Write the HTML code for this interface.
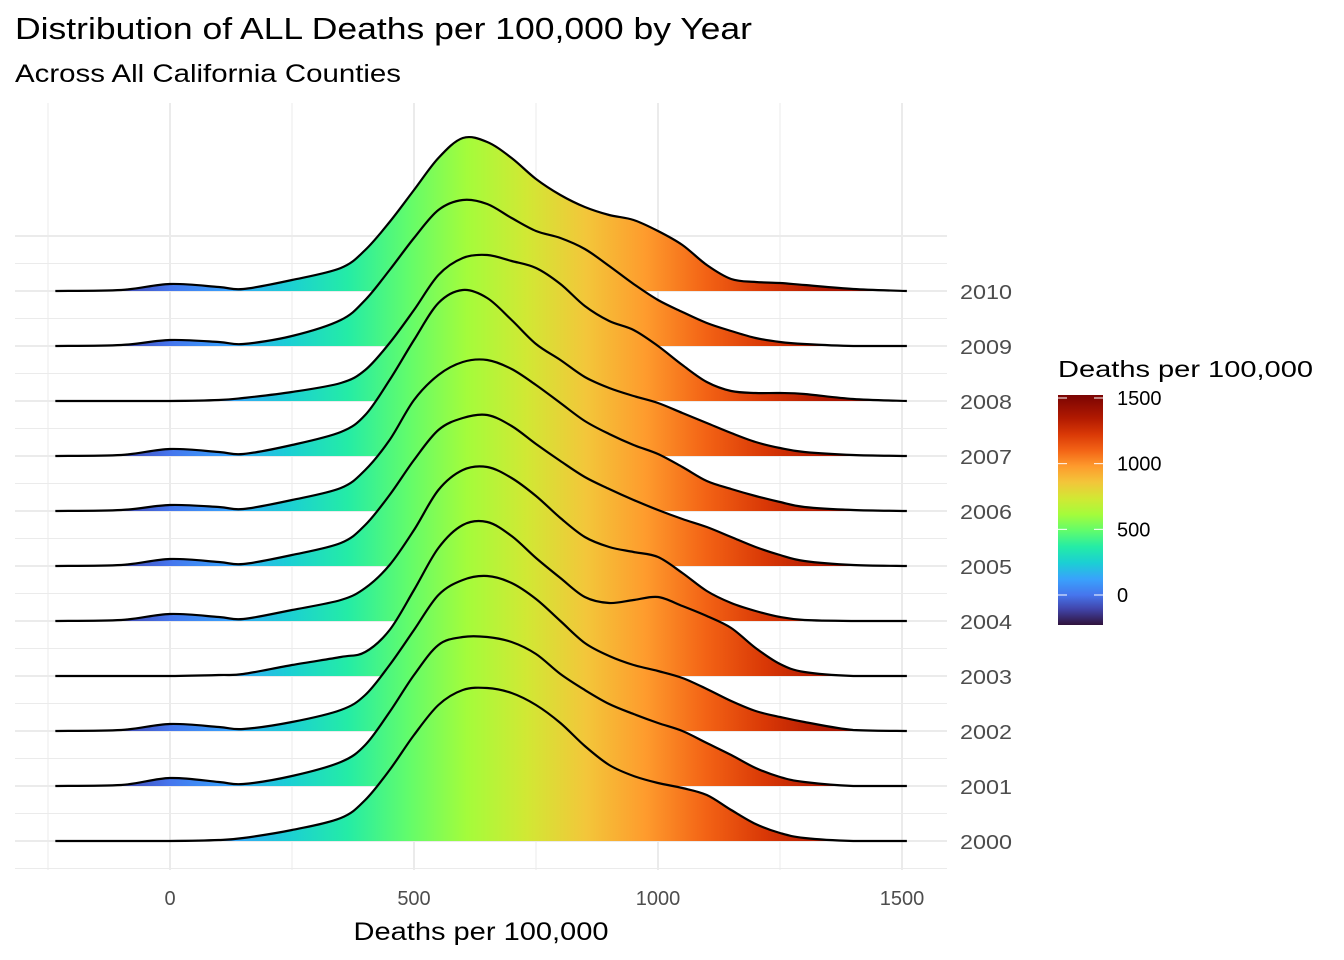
<!DOCTYPE html>
<html><head><meta charset="utf-8"><style>
body{margin:0;background:#fff;}
svg{display:block;font-family:"Liberation Sans",Arial,sans-serif;}
</style></head><body>
<svg id="chart" width="1344" height="960">
<defs>
<linearGradient id="turbo" gradientUnits="userSpaceOnUse" x1="58" x2="910" y1="0" y2="0">
<stop offset="0" stop-color="#30123b"/><stop offset="0.07" stop-color="#4145ab"/><stop offset="0.13" stop-color="#4675ed"/>
<stop offset="0.2" stop-color="#39a2fc"/><stop offset="0.27" stop-color="#1bcfd4"/><stop offset="0.34" stop-color="#24eca6"/>
<stop offset="0.41" stop-color="#61fc6c"/><stop offset="0.48" stop-color="#a4fc3b"/><stop offset="0.55" stop-color="#d1e834"/>
<stop offset="0.62" stop-color="#f3c63a"/><stop offset="0.69" stop-color="#fe9b2d"/><stop offset="0.76" stop-color="#f36315"/>
<stop offset="0.83" stop-color="#d93806"/><stop offset="0.9" stop-color="#b11901"/><stop offset="1" stop-color="#7a0403"/>
</linearGradient>
<linearGradient id="turboV" x1="0" x2="0" y1="1" y2="0">
<stop offset="0" stop-color="#30123b"/><stop offset="0.07" stop-color="#4145ab"/><stop offset="0.13" stop-color="#4675ed"/>
<stop offset="0.2" stop-color="#39a2fc"/><stop offset="0.27" stop-color="#1bcfd4"/><stop offset="0.34" stop-color="#24eca6"/>
<stop offset="0.41" stop-color="#61fc6c"/><stop offset="0.48" stop-color="#a4fc3b"/><stop offset="0.55" stop-color="#d1e834"/>
<stop offset="0.62" stop-color="#f3c63a"/><stop offset="0.69" stop-color="#fe9b2d"/><stop offset="0.76" stop-color="#f36315"/>
<stop offset="0.83" stop-color="#d93806"/><stop offset="0.9" stop-color="#b11901"/><stop offset="1" stop-color="#7a0403"/>
</linearGradient>
</defs>
<text x="15" y="39" font-size="31" textLength="737" lengthAdjust="spacingAndGlyphs" fill="#000">Distribution of ALL Deaths per 100,000 by Year</text>
<text x="15" y="82" font-size="25" textLength="386" lengthAdjust="spacingAndGlyphs" fill="#000">Across All California Counties</text>
<g id="grid"></g>
<g id="ridges"></g>
<g id="axes"></g>
<text x="481" y="940" font-size="25" text-anchor="middle" textLength="255" lengthAdjust="spacingAndGlyphs" fill="#000">Deaths per 100,000</text>
<g>
<text x="1058" y="377" font-size="23" textLength="255" lengthAdjust="spacingAndGlyphs" fill="#000">Deaths per 100,000</text>
<rect x="1058" y="395" width="45" height="230" fill="url(#turboV)"/>
<g id="legendTicks"></g>
</g>
</svg>
<script>
const grid = [-235,-100,0,100,150,250,350,400,450,500,550,600,650,700,750,800,850,900,950,1000,1050,1100,1150,1200,1250,1300,1400,1510];
const years = [2000,2001,2002,2003,2004,2005,2006,2007,2008,2009,2010];
const d2000 = [0,0,0,1,3,11,23,41,71,106,136,151,153,148,136,118,95,76,65,58,53,46,31,17,8,3,0,0];
const d2001 = [0,1,8,4,2,10,24,41,74,111,141,149,149,144,132,112,96,82,72,63,55,43,31,18,9,4,0,0];
const d2002 = [0,1,7,4,2,9,21,36,66,101,136,151,155,148,132,110,88,75,66,60,53,42,30,20,14,9,1,0];
const d2003 = [0,0,0,1,2,11,19,24,46,86,128,151,154,140,118,98,79,73,76,79,70,60,48,28,12,4,0,0];
const d2004 = [0,1,7,4,2,11,21,33,56,91,131,151,154,143,125,103,84,74,69,64,48,30,18,10,4,1,0,0];
const d2005 = [0,1,7,4,2,11,23,41,71,106,136,148,151,140,122,105,89,77,66,56,47,39,29,19,11,5,1,0];
const d2006 = [0,1,6,4,2,11,23,41,71,111,136,149,151,142,126,108,90,77,66,57,44,30,22,15,9,4,1,0];
const d2007 = [0,1,7,4,2,11,24,41,76,116,153,166,158,136,112,96,79,68,60,53,43,33,23,14,8,4,1,0];
const d2008 = [0,0,0,1,3,9,18,31,58,91,126,143,146,140,133,117,95,80,71,55,36,19,10,8,8,7,2,0];
const d2009 = [0,1,6,4,2,10,26,46,76,108,136,146,142,128,115,108,97,80,62,46,34,23,15,8,4,2,0,0];
const d2010 = [0,1,7,4,2,11,23,41,69,101,133,153,149,133,112,96,84,76,71,60,46,26,12,9,8,6,2,0];
const series = [d2000,d2001,d2002,d2003,d2004,d2005,d2006,d2007,d2008,d2009,d2010];
const xTicks = [0,500,1000,1500];
const legendTicks = [0,500,1000,1500];

const NS="http://www.w3.org/2000/svg";
const xs = v => 170 + v*(902-170)/1500;
const base = i => 841 - i*55;
const hs = h => h;
const lg = v => 595 - v*(595-398)/1500;
function mk(tag, attrs, parent){const e=document.createElementNS(NS,tag);for(const k in attrs)e.setAttribute(k,attrs[k]);parent.appendChild(e);return e;}

const G=document.getElementById('grid');
for(let i=0;i<=years.length;i++){
  const ln=mk('line',{x1:15,x2:947,y1:base(i)+27.5,y2:base(i)+27.5,stroke:'#ebebeb','stroke-width':1},G);
  
  
}
for(let i=0;i<=years.length;i++){
  const ln=mk('line',{x1:15,x2:947,y1:base(i),y2:base(i),stroke:'#ebebeb','stroke-width':2},G);
  
  
}
for(let v=-250;v<=1500;v+=250){
  const major = v%500===0;
  const ln=mk('line',{x1:xs(v),x2:xs(v),y1:103,y2:870,stroke:'#ebebeb','stroke-width':major?2:1},G);
  
  
}
function pathFor(vals,i){
  const pts=grid.map((g,k)=>[xs(g),base(i)-hs(vals[k])]);
  let d=`M${pts[0][0]},${pts[0][1]}`;
  for(let k=0;k<pts.length-1;k++){
    const p0=pts[Math.max(k-1,0)],p1=pts[k],p2=pts[k+1],p3=pts[Math.min(k+2,pts.length-1)];
    const c1=[p1[0]+(p2[0]-p0[0])/6, Math.min(base(i),p1[1]+(p2[1]-p0[1])/6)];
    const c2=[p2[0]-(p3[0]-p1[0])/6, Math.min(base(i),p2[1]-(p3[1]-p1[1])/6)];
    d+=` C${c1[0]},${c1[1]} ${c2[0]},${c2[1]} ${p2[0]},${p2[1]}`;
  }
  return d;
}
const R=document.getElementById('ridges');
for(let i=years.length-1;i>=0;i--){
  const d=pathFor(series[i],i);
  const f=mk('path',{d:d+` L${xs(grid[grid.length-1])},${base(i)} L${xs(grid[0])},${base(i)} Z`,fill:'url(#turbo)',stroke:'none'},R);
  
  
  const l=mk('path',{d:d,fill:'none',stroke:'#000','stroke-width':2.2},R);
  
  
}
const A=document.getElementById('axes');
years.forEach((y,i)=>{
  const t=mk('text',{x:960,y:base(i)+8,'font-size':20,fill:'#4d4d4d',textLength:52,lengthAdjust:'spacingAndGlyphs'},A);
  t.textContent=y;
  
  
});
xTicks.forEach(v=>{
  const t=mk('text',{x:xs(v),y:905,'font-size':20,fill:'#4d4d4d','text-anchor':'middle'},A);
  t.textContent=v;
  
  
});
const L=document.getElementById('legendTicks');
legendTicks.forEach(v=>{
  const a=mk('line',{x1:1058,x2:1067,y1:lg(v),y2:lg(v),stroke:'#fff','stroke-width':1},L);
  
  
  const b=mk('line',{x1:1094,x2:1103,y1:lg(v),y2:lg(v),stroke:'#fff','stroke-width':1},L);
  
  
  const t=mk('text',{x:1117,y:lg(v)+7,'font-size':20,fill:'#000'},L);
  t.textContent=v;
  
  
});
</script>
</body></html>
